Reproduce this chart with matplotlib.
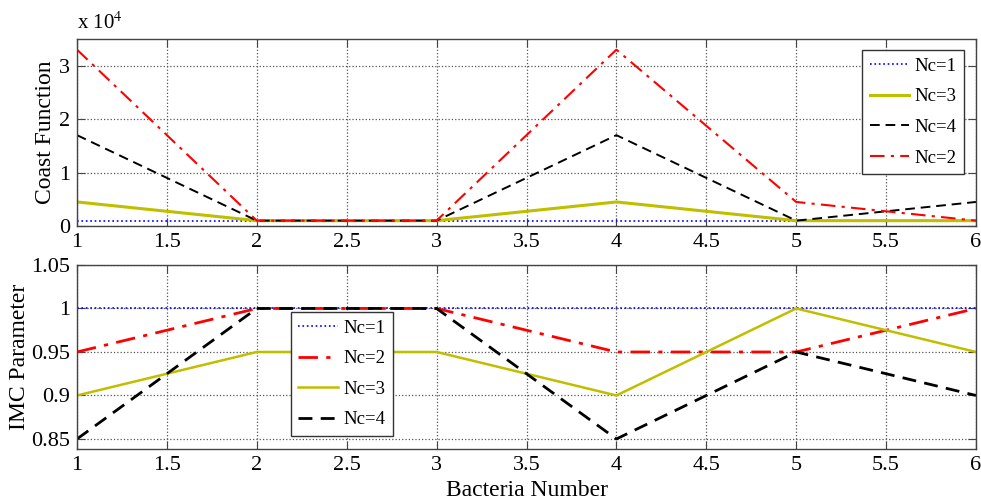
import matplotlib
matplotlib.use("Agg")
import matplotlib.pyplot as plt
from matplotlib.ticker import FuncFormatter, MultipleLocator

plt.rcParams["font.family"] = ["Liberation Serif", "DejaVu Serif"]
plt.rcParams["mathtext.fontset"] = "stix"

bacteria = [1, 2, 3, 4, 5, 6]

# cost function per number of clusters
cost_nc1 = [1000, 1000, 1000, 1000, 1000, 1000]
cost_nc3 = [4500, 1000, 1000, 4500, 1000, 1000]
cost_nc4 = [17000, 1000, 1000, 17000, 1000, 4500]
cost_nc2 = [33000, 1000, 1000, 33000, 4500, 1000]

# IMC parameter per number of clusters
imc_nc1 = [1.0, 1.0, 1.0, 1.0, 1.0, 1.0]
imc_nc2 = [0.95, 1.0, 1.0, 0.95, 0.95, 1.0]
imc_nc3 = [0.90, 0.95, 0.95, 0.90, 1.0, 0.95]
imc_nc4 = [0.85, 1.0, 1.0, 0.85, 0.95, 0.90]

olive = (0.75, 0.75, 0.0)
dashdot = (0, (7, 3, 1.5, 3))
dashed = (0, (5, 3))

fig = plt.figure(figsize=(9.81, 5.03), dpi=100)
ax1 = fig.add_axes([0.0785, 0.5507, 0.9164, 0.3718])
ax2 = fig.add_axes([0.0785, 0.1074, 0.9164, 0.3658])

ax1.plot(bacteria, cost_nc1, color="blue", ls=":", lw=1.2, label="Nc=1")
ax1.plot(bacteria, cost_nc3, color=olive, ls="-", lw=2.2, label="Nc=3")
ax1.plot(bacteria, cost_nc4, color="black", ls=dashed, lw=1.4, label="Nc=4")
ax1.plot(bacteria, cost_nc2, color="red", ls=dashdot, lw=1.5, label="Nc=2")
ax1.set_ylim(0, 35000)
ax1.yaxis.set_major_locator(MultipleLocator(10000))
ax1.yaxis.set_major_formatter(FuncFormatter(lambda v, p: f"{v / 1e4:g}"))
ax1.set_ylabel("Coast Function", fontsize=17, labelpad=2)
ax1.text(0.0, 1.025, r"x 10$^4$", transform=ax1.transAxes, fontsize=15,
         ha="left", va="bottom")

ax2.plot(bacteria, imc_nc1, color="blue", ls=":", lw=1.2, label="Nc=1")
ax2.plot(bacteria, imc_nc2, color="red", ls=dashdot, lw=2.0, label="Nc=2")
ax2.plot(bacteria, imc_nc3, color=olive, ls="-", lw=1.8, label="Nc=3")
ax2.plot(bacteria, imc_nc4, color="black", ls=dashed, lw=2.0, label="Nc=4")
ax2.set_ylim(0.8385, 1.05)
ax2.set_yticks([0.85, 0.9, 0.95, 1.0, 1.05])
ax2.yaxis.set_major_formatter(FuncFormatter(lambda v, p: f"{v:g}"))
ax2.set_ylabel("IMC Parameter", fontsize=17, labelpad=1)
ax2.set_xlabel("Bacteria Number", fontsize=17, labelpad=4)

legend_style = dict(fontsize=13.5, fancybox=False, edgecolor="#333333",
                    framealpha=1, handlelength=2.1, handletextpad=0.3,
                    labelspacing=0.72, borderpad=0.4, borderaxespad=0)
ax1.legend(loc="upper right", bbox_to_anchor=(0.9867, 0.941), **legend_style)
ax2.legend(loc="upper left", bbox_to_anchor=(0.238, 0.7446), **legend_style)

for ax in (ax1, ax2):
    ax.set_xlim(1, 6)
    ax.xaxis.set_major_locator(MultipleLocator(0.5))
    ax.xaxis.set_major_formatter(FuncFormatter(lambda v, p: f"{v:g}"))
    ax.grid(True, ls=":", color="#555555", lw=0.9)
    ax.tick_params(direction="in", top=True, right=True, labelsize=16,
                   length=6, color="#444444", pad=5)
    for s in ax.spines.values():
        s.set_color("#444444")
        s.set_linewidth(1.0)

fig.savefig("out.png", dpi=100)
